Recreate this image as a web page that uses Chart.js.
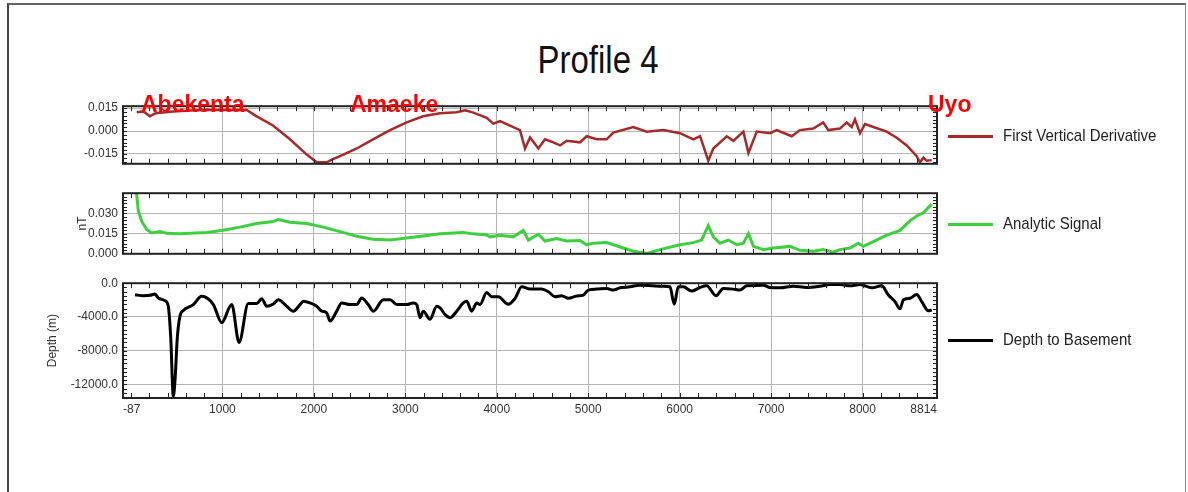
<!DOCTYPE html>
<html>
<head>
<meta charset="utf-8">
<script src="https://cdn.jsdelivr.net/npm/chart.js@4.4.1/dist/chart.umd.min.js"></script>
<style>
  body { margin: 0; width: 1188px; height: 492px; background: #fff; position: relative; overflow: hidden;
         font-family: "Liberation Sans", Arial, sans-serif; }
  .frame { position: absolute; left: 7px; top: 3px; width: 1176px; height: 489px;
           border-left: 2px solid #444; border-top: 2px solid #666; border-right: 1px solid #888; }
  canvas.panel { position: absolute; left: 0; }
  #title { position: absolute; left: 0; width: 1196px; top: 43px; text-align: center;
           font-size: 33px; line-height: 33px; color: #111; transform: scaleY(1.15); }
  .place { position: absolute; top: 93px; color: #ff0000; font-weight: bold; font-size: 23px;
           line-height: 23px; z-index: 5; }
  .legend { position: absolute; left: 948px; height: 20px; font-size: 15px; line-height: 20px; color: #222; }
  .legend .line { position: absolute; left: 0; top: 9px; width: 45px; height: 2.5px; }
  .legend .text { position: absolute; left: 55px; top: 0; white-space: nowrap; transform: scaleY(1.08); }
</style>
</head>
<body>
<div class="frame"></div>
<div id="title">Profile 4</div>

<canvas id="fvdChart" class="panel" width="1188" height="82" style="top:94px"></canvas>
<canvas id="asChart" class="panel" width="1188" height="85" style="top:181px"></canvas>
<canvas id="depthChart" class="panel" width="1188" height="152" style="top:271px"></canvas>

<div class="place" style="left:141px">Abekenta</div>
<div class="place" style="left:350px">Amaeke</div>
<div class="place" style="left:928px">Uyo</div>

<div class="legend" style="top:126px"><div class="line" style="background:#a52a2a"></div><div class="text">First Vertical Derivative</div></div>
<div class="legend" style="top:214px"><div class="line" style="background:#3ecf3e"></div><div class="text">Analytic Signal</div></div>
<div class="legend" style="top:330px"><div class="line" style="background:#000"></div><div class="text">Depth to Basement</div></div>

<script>
// Distance along profile (x) and tick labels
const xTicks = [-87, 1000, 2000, 3000, 4000, 5000, 6000, 7000, 8000, 8814];

// First Vertical Derivative
const fvdDist = [63, 135, 208, 263, 318, 463, 646, 828, 1047, 1266, 1375, 1553, 1739, 1922, 2031,
  2140, 2209, 2286, 2469, 2647, 2833, 3015, 3194, 3380, 3562, 3653, 3744, 3890, 3962, 4036,
  4181, 4254, 4309, 4364, 4455, 4528, 4619, 4692, 4765, 4910, 4983, 5093, 5202, 5275, 5493,
  5640, 5821, 6004, 6149, 6223, 6313, 6368, 6515, 6587, 6697, 6752, 6843, 6988, 7061, 7225,
  7316, 7461, 7570, 7625, 7753, 7826, 7881, 7917, 7972, 8027, 8118, 8264, 8373, 8483, 8592,
  8628, 8665, 8701, 8756];
const fvdValues = [0.0122, 0.0128, 0.0096, 0.0115, 0.012, 0.0128, 0.0134, 0.0138, 0.0138, 0.0138,
  0.0096, 0.0036, -0.0054, -0.0154, -0.0204, -0.0204, -0.0184, -0.0164, -0.0114, -0.0054,
  0.0006, 0.0056, 0.0096, 0.0116, 0.0122, 0.0136, 0.012, 0.0086, 0.0048, 0.0064,
  0.0026, 0.0006, -0.0114, -0.0042, -0.0114, -0.0054, -0.0074, -0.0094, -0.0064, -0.0074,
  -0.0034, -0.0054, -0.0054, -0.001, 0.0026, -0.0004, 0.0006, -0.0014, -0.0054, -0.0034,
  -0.0194, -0.0114, -0.0034, -0.0064, -0.0004, -0.0144, -0.0004, -0.0014, 0.0006, -0.0034,
  0.0006, 0.0016, 0.0056, 0.0006, 0.0016, 0.0056, 0.0026, 0.0076, -0.0014, 0.0046,
  0.0026, -0.0004, -0.0044, -0.0094, -0.0164, -0.0204, -0.0174, -0.0194, -0.019];
const fvdTicks = [-0.015, 0, 0.015];

// Analytic Signal
const asDist = [54, 80, 118, 172, 227, 318, 391, 536, 646, 828, 1010, 1192, 1375, 1557, 1611,
  1739, 1922, 2103, 2286, 2469, 2650, 2833, 3015, 3197, 3380, 3634, 3740, 3890,
  3926, 4036, 4181, 4290, 4345, 4455, 4528, 4656, 4765, 4910, 4983, 5056, 5202, 5384, 5493,
  5640, 5785, 6004, 6149, 6240, 6313, 6368, 6441, 6532, 6624, 6697, 6752, 6807, 6916, 7025,
  7207, 7316, 7461, 7570, 7680, 7753, 7862, 7953, 8008, 8118, 8264, 8409, 8518, 8592, 8665, 8756];
const asValues = [0.05, 0.032, 0.024, 0.018, 0.0155, 0.0165, 0.0152, 0.0148, 0.0152, 0.0158,
  0.0175, 0.0198, 0.0225, 0.024, 0.0255, 0.0235, 0.0225, 0.0198, 0.0165, 0.013,
  0.0108, 0.0103, 0.0118, 0.0133, 0.0148, 0.0158, 0.0148, 0.014,
  0.0126, 0.0138, 0.0126, 0.0174, 0.0102, 0.0145, 0.0095, 0.0114, 0.0095, 0.0098,
  0.0067, 0.0079, 0.0083, 0.0043, 0.0019, 0.0002, 0.0031, 0.0067, 0.0083, 0.0102,
  0.021, 0.0126, 0.0079, 0.0102, 0.0067, 0.0079, 0.015, 0.0055, 0.0031, 0.0043,
  0.0055, 0.0026, 0.0019, 0.0031, 0.0012, 0.0031, 0.0043, 0.0079, 0.0055, 0.009,
  0.0138, 0.0174, 0.0245, 0.0281, 0.0305, 0.0369];
const asTicks = [0, 0.015, 0.03];

// Depth to Basement (m)
const depthDist = [44, 135, 208, 263, 299, 372, 408, 435, 463, 482, 507, 536, 572, 682, 773,
  901, 992, 1102, 1182, 1283, 1375, 1430, 1484, 1557, 1611, 1703, 1775, 1849, 1885, 1958,
  2031, 2086, 2140, 2177, 2250, 2304, 2395, 2469, 2523, 2595, 2650, 2760, 2833, 2906, 3015,
  3088, 3125, 3161, 3197, 3270, 3343, 3380, 3434, 3489, 3562, 3634, 3671, 3726, 3781, 3817,
  3890, 3945, 4017, 4126, 4200, 4273, 4364, 4491, 4564, 4637, 4710, 4782, 4874, 4946, 5001,
  5093, 5202, 5275, 5348, 5457, 5566, 5712, 5821, 5894, 5941, 5985, 6040, 6131, 6223, 6296,
  6398, 6477, 6587, 6660, 6733, 6915, 6988, 7097, 7243, 7389, 7535, 7644, 7753, 7862, 7972,
  8100, 8209, 8282, 8355, 8409, 8446, 8519, 8592, 8647, 8719, 8756];
const depthValues = [-1363, -1480, -1440, -1285, -1750, -2064, -2727, -6427, -13400, -11490,
  -6427, -3895, -3233, -2532, -1558, -2532, -4674, -2532, -7011, -2415,
  -2415, -1831, -2727, -2454, -1948, -2727, -3311, -2532, -2142, -2337,
  -2727, -3311, -3506, -4479, -3311, -2337, -2532, -2532, -1753, -2532,
  -3311, -1948, -1948, -2532, -2532, -2337, -2532, -4090, -3311, -4285,
  -2727, -2921, -3700, -4090, -3311, -2337, -2142, -3311, -2337, -2532,
  -1100, -1597, -1597, -2493, -1792, -428, -701, -701, -1013, -1597,
  -1480, -1792, -1519, -1402, -818, -701, -623, -818, -545, -428,
  -234, -312, -351, -428, -2493, -428, -428, -935, -506, -312,
  -1480, -623, -701, -818, -312, -234, -506, -545, -351, -506,
  -351, -156, -156, -312, -156, -545, -312, -1402, -2181, -3038,
  -1986, -1792, -1324, -2181, -3272, -3155];
const depthTicks = [-12000, -8000, -4000, 0];

// frame + inward minor ticks
const frameTicks = {
  id: 'frameTicks',
  afterDraw(chart, args, opts) {
    const { ctx, chartArea: a, scales: { x, y } } = chart;
    ctx.save();
    ctx.strokeStyle = '#222';
    ctx.lineWidth = 1;
    ctx.beginPath();
    for (let v = 0; v <= 8814; v += 200) {
      const px = Math.round(x.getPixelForValue(v)) + 0.5;
      if (px <= a.left + 1 || px >= a.right - 1) continue;
      ctx.moveTo(px, a.top); ctx.lineTo(px, a.top + 5);
      ctx.moveTo(px, a.bottom); ctx.lineTo(px, a.bottom - 5);
    }
    const n0 = Math.ceil(y.min / opts.step), n1 = Math.floor(y.max / opts.step);
    for (let i = n0; i <= n1; i++) {
      const py = Math.round(y.getPixelForValue(i * opts.step)) + 0.5;
      if (py <= a.top + 1 || py >= a.bottom - 1) continue;
      ctx.moveTo(a.left, py); ctx.lineTo(a.left + 4, py);
      ctx.moveTo(a.right, py); ctx.lineTo(a.right - 4, py);
    }
    ctx.stroke();
    ctx.lineWidth = 2;
    ctx.strokeRect(a.left, a.top, a.right - a.left, a.bottom - a.top);
    ctx.restore();
  }
};

const tickFont = { family: '"Liberation Sans", Arial, sans-serif', size: 12 };

function makePanel(id, p) {
  const points = p.dist.map((d, i) => ({ x: d, y: p.values[i] }));
  return new Chart(document.getElementById(id), {
    type: 'line',
    data: {
      datasets: [{
        data: points,
        borderColor: p.color,
        borderWidth: p.width,
        pointRadius: 0,
        tension: p.smooth ? 0.4 : 0,
        cubicInterpolationMode: p.smooth ? 'monotone' : 'default',
        fill: false
      }]
    },
    options: {
      responsive: false,
      animation: false,
      layout: { padding: { left: p.padLeft, right: 251, top: 10, bottom: p.padBottom } },
      plugins: {
        legend: { display: false },
        tooltip: { enabled: false },
        frameTicks: { step: p.minorStep }
      },
      scales: {
        x: {
          type: 'linear',
          min: -87,
          max: 8814,
          afterBuildTicks: s => { s.ticks = xTicks.map(v => ({ value: v })); },
          afterFit: s => { s.height = p.xHeight; },
          ticks: {
            display: p.showX,
            align: 'inner',
            maxRotation: 0,
            autoSkip: false,
            padding: 4,
            color: '#333',
            font: tickFont,
            callback: v => String(v)
          },
          grid: { color: '#b4b4b4', lineWidth: 1, drawTicks: false },
          border: { display: false }
        },
        y: {
          min: p.min,
          max: p.max,
          afterBuildTicks: s => { s.ticks = p.ticks.map(v => ({ value: v })); },
          afterFit: s => { s.width = 123 - p.padLeft; },
          ticks: {
            padding: 5,
            color: '#333',
            font: tickFont,
            callback: v => v.toFixed(p.decimals)
          },
          title: {
            display: !!p.title,
            text: p.title || '',
            color: '#333',
            font: tickFont
          },
          grid: { color: '#b4b4b4', lineWidth: 1, drawTicks: false },
          border: { display: false }
        }
      }
    },
    plugins: [frameTicks]
  });
}

makePanel('fvdChart', {
  dist: fvdDist, values: fvdValues, ticks: fvdTicks, decimals: 3,
  min: -0.0214, max: 0.0162, color: '#a52a2a', width: 2.5, smooth: false,
  padLeft: 41, padBottom: 10, xHeight: 0, showX: false, minorStep: 0.0025
});

makePanel('asChart', {
  dist: asDist, values: asValues, ticks: asTicks, decimals: 3,
  min: 0, max: 0.045, color: '#3ecf3e', width: 3, smooth: false, title: 'nT',
  padLeft: 71, padBottom: 10, xHeight: 0, showX: false, minorStep: 0.0025
});

makePanel('depthChart', {
  dist: depthDist, values: depthValues, ticks: depthTicks, decimals: 1,
  min: -13600, max: 0, color: '#000000', width: 3, smooth: true, title: 'Depth (m)',
  padLeft: 41, padBottom: 3, xHeight: 22, showX: true, minorStep: 500
});
</script>
</body>
</html>
